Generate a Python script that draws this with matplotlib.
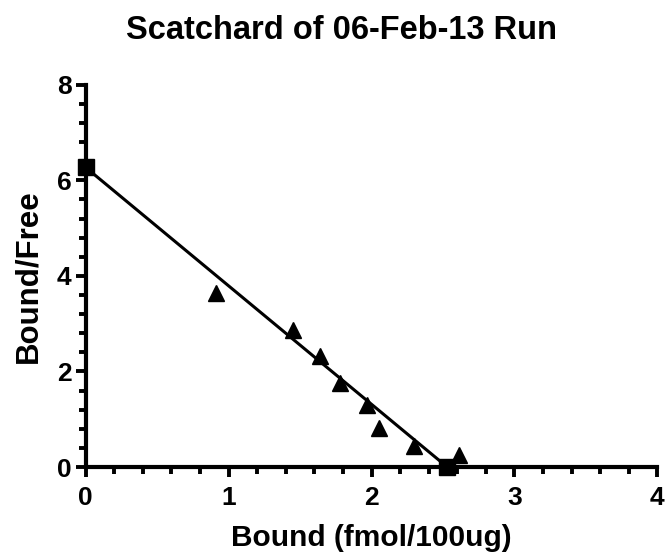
import matplotlib
matplotlib.use("Agg")
import matplotlib.pyplot as plt
from matplotlib.ticker import MultipleLocator

plt.rcParams["font.family"] = ["Liberation Sans", "DejaVu Sans"]
plt.rcParams["font.weight"] = "bold"

# Scatchard data (bound, bound/free)
bound = [0.91, 1.45, 1.64, 1.78, 1.97, 2.05, 2.30, 2.61]
bound_free = [3.65, 2.87, 2.33, 1.76, 1.30, 0.81, 0.44, 0.26]

# fitted line intercepts (Bmax on x, Bmax/Kd on y)
fit_x = [0.0, 2.53]
fit_y = [6.27, 0.0]

title = "Scatchard of 06-Feb-13 Run"
xlabel = "Bound (fmol/100ug)"
ylabel = "Bound/Free"

fig = plt.figure(figsize=(6.7, 5.58), dpi=100)
ax = fig.add_axes([0.128, 0.163, 0.853, 0.685])

ax.plot(fit_x, fit_y, color="black", lw=2.2, clip_on=False, zorder=3)
ax.plot(bound, bound_free, "^", color="black", ms=11, clip_on=False, zorder=4)
ax.plot(fit_x, fit_y, "s", color="black", ms=11, clip_on=False, zorder=5)

ax.set_xlim(0, 4)
ax.set_ylim(0, 8)
ax.xaxis.set_major_locator(MultipleLocator(1))
ax.xaxis.set_minor_locator(MultipleLocator(0.2))
ax.yaxis.set_major_locator(MultipleLocator(2))
ax.yaxis.set_minor_locator(MultipleLocator(0.4))

for side in ["top", "right"]:
    ax.spines[side].set_visible(False)
for side in ["left", "bottom"]:
    ax.spines[side].set_linewidth(3)

ax.tick_params(which="major", length=7.2, width=2.8, labelsize=19)
ax.tick_params(which="minor", length=5, width=2.8)
ax.tick_params(axis="x", which="major", pad=6.5)
ax.tick_params(axis="y", which="major", pad=3)
for lab in ax.get_xticklabels() + ax.get_yticklabels():
    lab.set_fontweight("bold")

ax.set_xlabel(xlabel, fontsize=21.5, fontweight="bold", labelpad=10)
ax.set_ylabel(ylabel, fontsize=22.5, fontweight="bold", labelpad=9.5)
fig.text(0.51, 1 - 39 / 558, title, fontsize=23.5, fontweight="bold",
         ha="center", va="baseline")

fig.savefig("out.png", dpi=100)
